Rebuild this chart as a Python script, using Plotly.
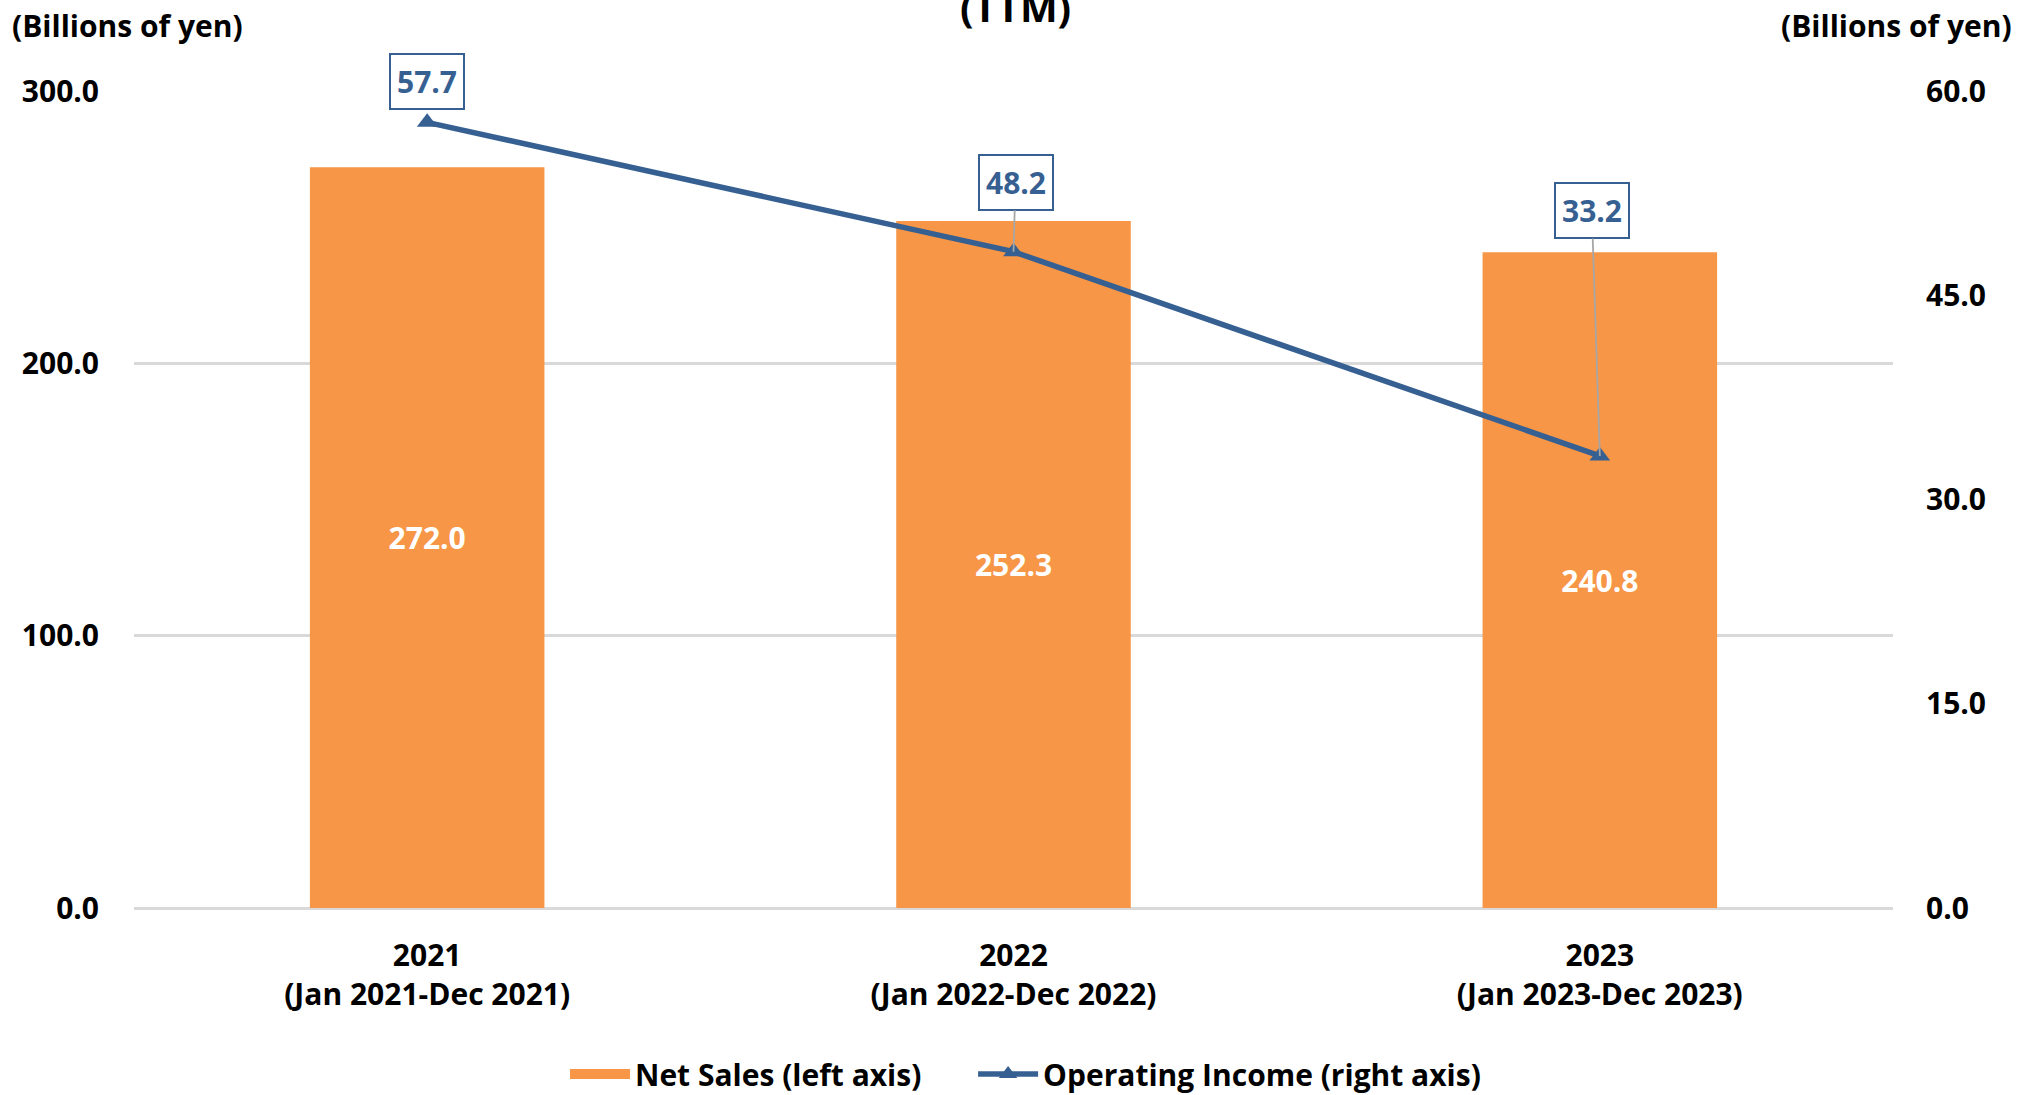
import plotly.graph_objects as go

categories = ["2021<br>(Jan 2021-Dec 2021)", "2022<br>(Jan 2022-Dec 2022)", "2023<br>(Jan 2023-Dec 2023)"]
net_sales = [272.0, 252.3, 240.8]
operating_income = [57.7, 48.2, 33.2]
left_ticks = [0, 100, 200, 300]
right_ticks = [0, 15, 30, 45, 60]

ORANGE = "#F79646"
BLUE = "#376092"
FONT = "Open Sans"
FS = 30

W, H = 2033, 1095
L, R, T, B = 134, 140, 91, 187
PH = H - T - B

def py(pix):
    return (H - B - pix) / PH

def px(pix):
    return (pix - L) / (W - L - R)

fig = go.Figure()
fig.add_trace(go.Bar(
    x=categories, y=net_sales, name="Net Sales (left axis)",
    marker=dict(color=ORANGE, line=dict(width=0)),
    text=[f"{v:.1f}" for v in net_sales], textposition="inside",
    insidetextanchor="middle",
    textfont=dict(color="white", size=FS, family=FONT, weight="bold"),
    yaxis="y", showlegend=False, legendgroup="sales",
))
# legend entry for the bars (wide swatch as in the reference)
fig.add_trace(go.Scatter(
    x=[None], y=[None], name="Net Sales (left axis)" + "\u00a0" * 6, mode="lines",
    line=dict(color=ORANGE, width=22), legendgroup="sales", yaxis="y",
))
fig.add_trace(go.Scatter(
    x=categories, y=operating_income, name="Operating Income (right axis)",
    mode="lines+markers",
    line=dict(color=BLUE, width=5.5),
    marker=dict(symbol="triangle-up", size=18, color=BLUE),
    yaxis="y2",
))

# data labels for operating income
offsets = [(0, -41, False), (2, -69, True), (-8, -245, True)]
for cat, v, (ax, ay, arrow) in zip(categories, operating_income, offsets):
    fig.add_annotation(
        x=cat, y=v, xref="x", yref="y2",
        text=f"{v:.1f}", showarrow=True,
        ax=ax, ay=ay, axref="pixel", ayref="pixel",
        arrowhead=0, arrowwidth=1.8 if arrow else 0.1,
        arrowcolor="#A6A6A6" if arrow else "rgba(0,0,0,0)",
        font=dict(color=BLUE, size=FS, family=FONT, weight="bold"),
        bgcolor="white", bordercolor=BLUE, borderwidth=2, borderpad=6,
    )

# axis unit labels
fig.add_annotation(x=px(127), y=py(25), xref="paper", yref="paper",
                   text="(Billions of yen)", showarrow=False,
                   xanchor="center", yanchor="middle",
                   font=dict(size=FS, family=FONT, weight="bold", color="black"))
fig.add_annotation(x=px(1896), y=py(25), xref="paper", yref="paper",
                   text="(Billions of yen)", showarrow=False,
                   xanchor="center", yanchor="middle",
                   font=dict(size=FS, family=FONT, weight="bold", color="black"))
# partially visible title (cut at the top edge, as in the reference)
fig.add_annotation(x=px(1015), y=py(36), xref="paper", yref="paper",
                   text="(TTM)", showarrow=False,
                   xanchor="center", yanchor="bottom",
                   font=dict(size=40, family=FONT, weight="bold", color="black"))

fig.update_layout(
    width=W, height=H,
    margin=dict(l=L, r=R, t=T, b=B, pad=0),
    paper_bgcolor="white", plot_bgcolor="white",
    font=dict(family=FONT, size=FS, color="black", weight="bold"),
    bargap=0.6,
    showlegend=True,
    legend=dict(orientation="h", x=565 / W, xanchor="left", xref="container",
                y=(H - 1074) / H, yanchor="middle", yref="container",
                font=dict(size=FS, family=FONT, weight="bold", color="black"),
                itemwidth=60, traceorder="normal",
                bgcolor="rgba(0,0,0,0)"),
    xaxis=dict(showline=False, showgrid=False, zeroline=False,
               ticks="", ticklabelstandoff=27,
               tickfont=dict(size=FS, family=FONT, weight="bold", color="black")),
    yaxis=dict(range=[0, 300], tickvals=left_ticks, tickformat=".1f",
               showgrid=True, gridcolor="#D9D9D9", gridwidth=2.5,
               zeroline=True, zerolinecolor="#D9D9D9", zerolinewidth=2.5,
               showline=False, ticks="", ticklabelstandoff=34,
               tickfont=dict(size=FS, family=FONT, weight="bold", color="black")),
    yaxis2=dict(range=[0, 60], tickvals=right_ticks, tickformat=".1f",
                overlaying="y", side="right", showgrid=False, zeroline=False,
                showline=False, ticks="", ticklabelstandoff=32,
                tickfont=dict(size=FS, family=FONT, weight="bold", color="black")),
)

fig.write_html("out.html", config={"displayModeBar": False},
               post_script="document.body.style.margin='0';document.body.style.overflow='hidden';")
